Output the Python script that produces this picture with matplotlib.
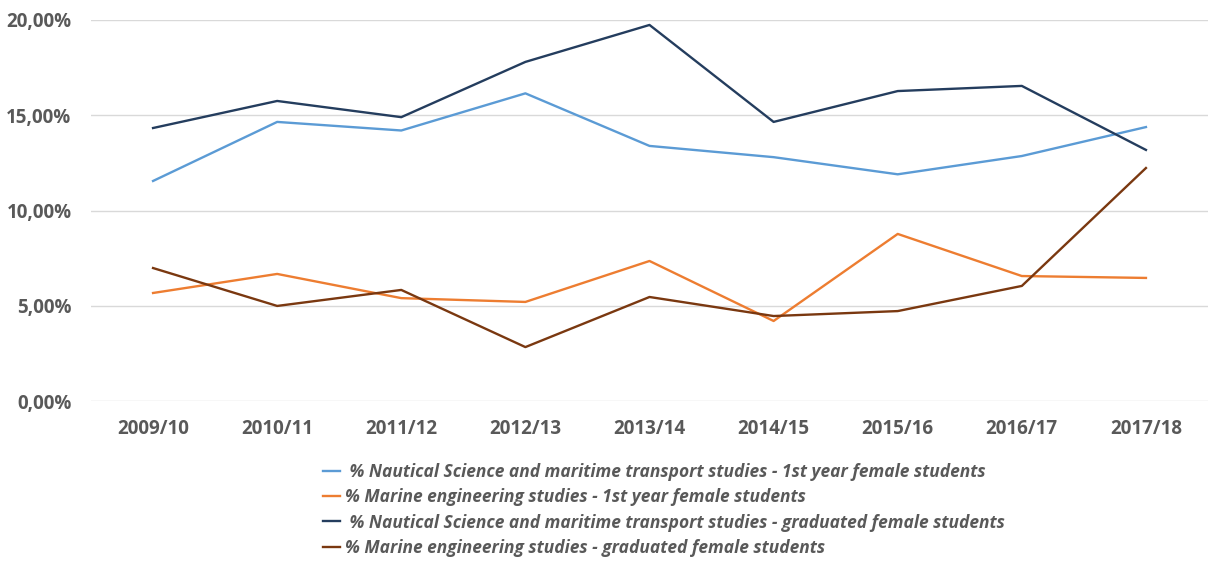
import matplotlib.pyplot as plt
from matplotlib.ticker import FuncFormatter

years = ["2009/10", "2010/11", "2011/12", "2012/13", "2013/14",
         "2014/15", "2015/16", "2016/17", "2017/18"]

nautical_1st = [11.55, 14.65, 14.2, 16.15, 13.39, 12.8, 11.9, 12.86, 14.38]
marine_1st = [5.67, 6.67, 5.4, 5.2, 7.35, 4.2, 8.77, 6.56, 6.46]
nautical_grad = [14.33, 15.75, 14.9, 17.8, 19.74, 14.65, 16.27, 16.54, 13.18]
marine_grad = [6.98, 4.99, 5.83, 2.83, 5.46, 4.46, 4.72, 6.04, 12.23]

labels = [
    " % Nautical Science and maritime transport studies - 1st year female students",
    "% Marine engineering studies - 1st year female students",
    " % Nautical Science and maritime transport studies - graduated female students",
    "% Marine engineering studies - graduated female students",
]
colors = ["#5B9BD5", "#ED7D31", "#243D5E", "#7A3810"]

plt.rcParams['font.family'] = ['Open Sans', 'DejaVu Sans']

fig = plt.figure(figsize=(12.08, 5.72), dpi=100)
ax = fig.add_axes([91 / 1208, 1 - 401 / 572, 1 - 91 / 1208, (401 - 20) / 572])

x = range(len(years))
for vals, col, lab in zip([nautical_1st, marine_1st, nautical_grad, marine_grad], colors, labels):
    ax.plot(x, [v / 100 for v in vals], color=col, linewidth=1.7, label=lab)

ax.set_xlim(-0.5, len(years) - 0.5)
ax.set_ylim(0, 0.20)
ax.set_yticks([0, 0.05, 0.10, 0.15, 0.20])
ax.yaxis.set_major_formatter(FuncFormatter(lambda v, p: f"{v * 100:.2f}%".replace(".", ",")))
ax.set_xticks(list(x))
ax.set_xticklabels(years)

for lbl in ax.get_xticklabels() + ax.get_yticklabels():
    lbl.set_fontweight('bold')
    lbl.set_color('#595959')
    lbl.set_fontsize(13.5)

ax.tick_params(axis='x', length=0, pad=13)
ax.tick_params(axis='y', length=0, pad=14)
ax.grid(axis='y', color='#D9D9D9', linewidth=1)
ax.set_axisbelow(True)
for s in ax.spines.values():
    s.set_visible(False)

leg = fig.legend(loc='upper left', bbox_to_anchor=(316 / 1208, 1 - 456 / 572),
                 frameon=False, handlelength=1.0, handletextpad=0.25,
                 labelspacing=0.42, borderaxespad=0,
                 prop={'weight': 'bold', 'style': 'italic', 'size': 12.5})
for t in leg.get_texts():
    t.set_color('#595959')

fig.savefig("out.png", dpi=100)
